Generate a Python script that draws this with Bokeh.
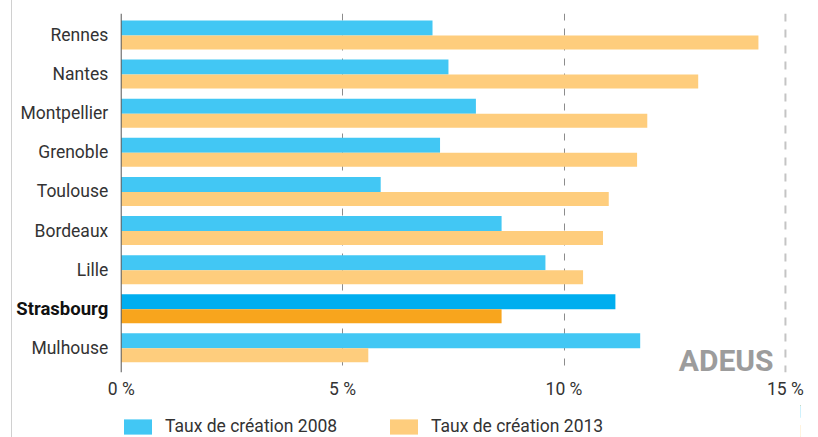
from bokeh.plotting import figure
from bokeh.layouts import column
from bokeh.models import Range1d, Span, Label, Legend, LegendItem, ColumnDataSource, FixedTicker
from bokeh.embed import file_html
from bokeh.resources import INLINE
from bokeh.core.properties import value

# ---- data ----
cities = ["Rennes", "Nantes", "Montpellier", "Grenoble", "Toulouse",
          "Bordeaux", "Lille", "Strasbourg", "Mulhouse"]
taux_2008 = [7.03, 7.39, 8.01, 7.20, 5.86, 8.59, 9.58, 11.16, 11.72]
taux_2013 = [14.39, 13.03, 11.88, 11.65, 11.01, 10.88, 10.43, 8.59, 5.58]
highlight = "Strasbourg"
x_ticks = [0, 5, 10, 15]
x_tick_labels = ["0 %", "5 %", "10 %", "15 %"]
series_labels = ["Taux de création 2008", "Taux de création 2013"]
logo_text = "ADEUS"

# ---- styles ----
FONT = "Roboto"
FS = "17.5px"
BLUE, BLUE_HI = "#42C7F4", "#00AEEF"
ORANGE, ORANGE_HI = "#FECD7D", "#F8A51D"
TEXT = "#333333"
PX = 39.1      # pixels per category
PX_PCT = 44.28  # pixels per percent
BORDER = {"border-left": "1px solid #d0d0d0"}

idx = list(range(len(cities)))
src = ColumnDataSource(dict(
    y=idx,
    city=cities,
    y08=[i - 7.0 / PX for i in idx],
    y13=[i + 7.5 / PX for i in idx],
    v08=taux_2008,
    v13=taux_2013,
    c08=[BLUE_HI if c == highlight else BLUE for c in cities],
    c13=[ORANGE_HI if c == highlight else ORANGE for c in cities],
    fstyle=["bold" if c == highlight else "normal" for c in cities],
    fsize=["18.5px" if c == highlight else FS for c in cities],
    tcolor=["#111111" if c == highlight else TEXT for c in cities],
))

x_start = -108.7 / PX_PCT
x_end = 15.34
p = figure(width=794, height=405,
           x_range=Range1d(x_start, x_end), y_range=Range1d(8.63, -0.55),
           output_backend="svg", toolbar_location=None,
           min_border_left=0, min_border_top=13, min_border_right=6,
           min_border_bottom=33)
p.outline_line_color = None
p.background_fill_color = "white"
p.border_fill_color = "white"
p.styles = dict(BORDER)

r08 = p.hbar(y="y08", left=0, right="v08", height=15.0 / PX,
             fill_color="c08", line_color=None, source=src)
r13 = p.hbar(y="y13", left=0, right="v13", height=14.0 / PX,
             fill_color="c13", line_color=None, source=src)

# category labels
p.text(x=0, y="y", text="city", x_offset=-13, text_align="right",
       text_baseline="middle", text_font=value(FONT), text_font_size="fsize",
       text_font_style="fstyle", text_color="tcolor", source=src)

# vertical axis line at 0
p.add_layout(Span(location=x_ticks[0], dimension="height", line_color="#555555",
                  line_width=1))

# grid
p.ygrid.grid_line_color = None
p.yaxis.visible = False
p.xgrid.ticker = FixedTicker(ticks=x_ticks[1:-1])
p.xgrid.grid_line_color = "#8c8c8c"
p.xgrid.grid_line_dash = "7 8"
p.xgrid.grid_line_width = 1
p.add_layout(Span(location=x_ticks[-1], dimension="height", line_color="#c4c4c4",
                  line_width=2, line_dash="8 8", level="underlay"))

# x axis
p.xaxis.ticker = FixedTicker(ticks=x_ticks)
p.xaxis.major_label_overrides = {t: l for t, l in zip(x_ticks, x_tick_labels)}
p.xaxis.axis_line_color = None
p.xaxis.major_tick_line_color = None
p.xaxis.minor_tick_line_color = None
p.xaxis.major_tick_out = 0
p.xaxis.major_tick_in = 0
p.xaxis.major_label_standoff = 6
p.xaxis.major_label_text_font = FONT
p.xaxis.major_label_text_font_size = FS
p.xaxis.major_label_text_color = TEXT

# logo
p.add_layout(Label(x=12.59, y=8.32, text=logo_text, text_align="left",
                   text_baseline="alphabetic", text_font=FONT,
                   text_font_style="bold", text_font_size="30px",
                   text_color="#9c9c9c"))

# ---- legend strip (separate figure; bars kept out of its view) ----
lg = figure(width=794, height=32, x_range=Range1d(-1000, -999), y_range=Range1d(0, 1),
            x_axis_type=None, y_axis_type=None,
            output_backend="svg", toolbar_location=None,
            min_border_left=0, min_border_top=0, min_border_right=6,
            min_border_bottom=0)
lg.outline_line_color = None
lg.grid.visible = False
lg.styles = dict(BORDER)
l08 = lg.hbar(y="y08", left=0, right="v08", height=0.4, fill_color="c08",
              line_color=None, source=src)
l13 = lg.hbar(y="y13", left=0, right="v13", height=0.4, fill_color="c13",
              line_color=None, source=src)
legend = Legend(items=[LegendItem(label=series_labels[0], renderers=[l08], index=0),
                       LegendItem(label=series_labels[1], renderers=[l13], index=0)],
                orientation="horizontal", location=(108, 1),
                glyph_width=35, glyph_height=19, label_standoff=10,
                label_width=221, spacing=0, padding=0, margin=0,
                label_text_font=FONT, label_text_font_size=FS,
                label_text_color=TEXT, background_fill_alpha=0,
                border_line_color=None)
lg.add_layout(legend, "center")

layout = column(p, lg, spacing=0)
layout.styles = {"margin-left": "11px"}

open("out.html", "w").write(file_html(layout, INLINE))
